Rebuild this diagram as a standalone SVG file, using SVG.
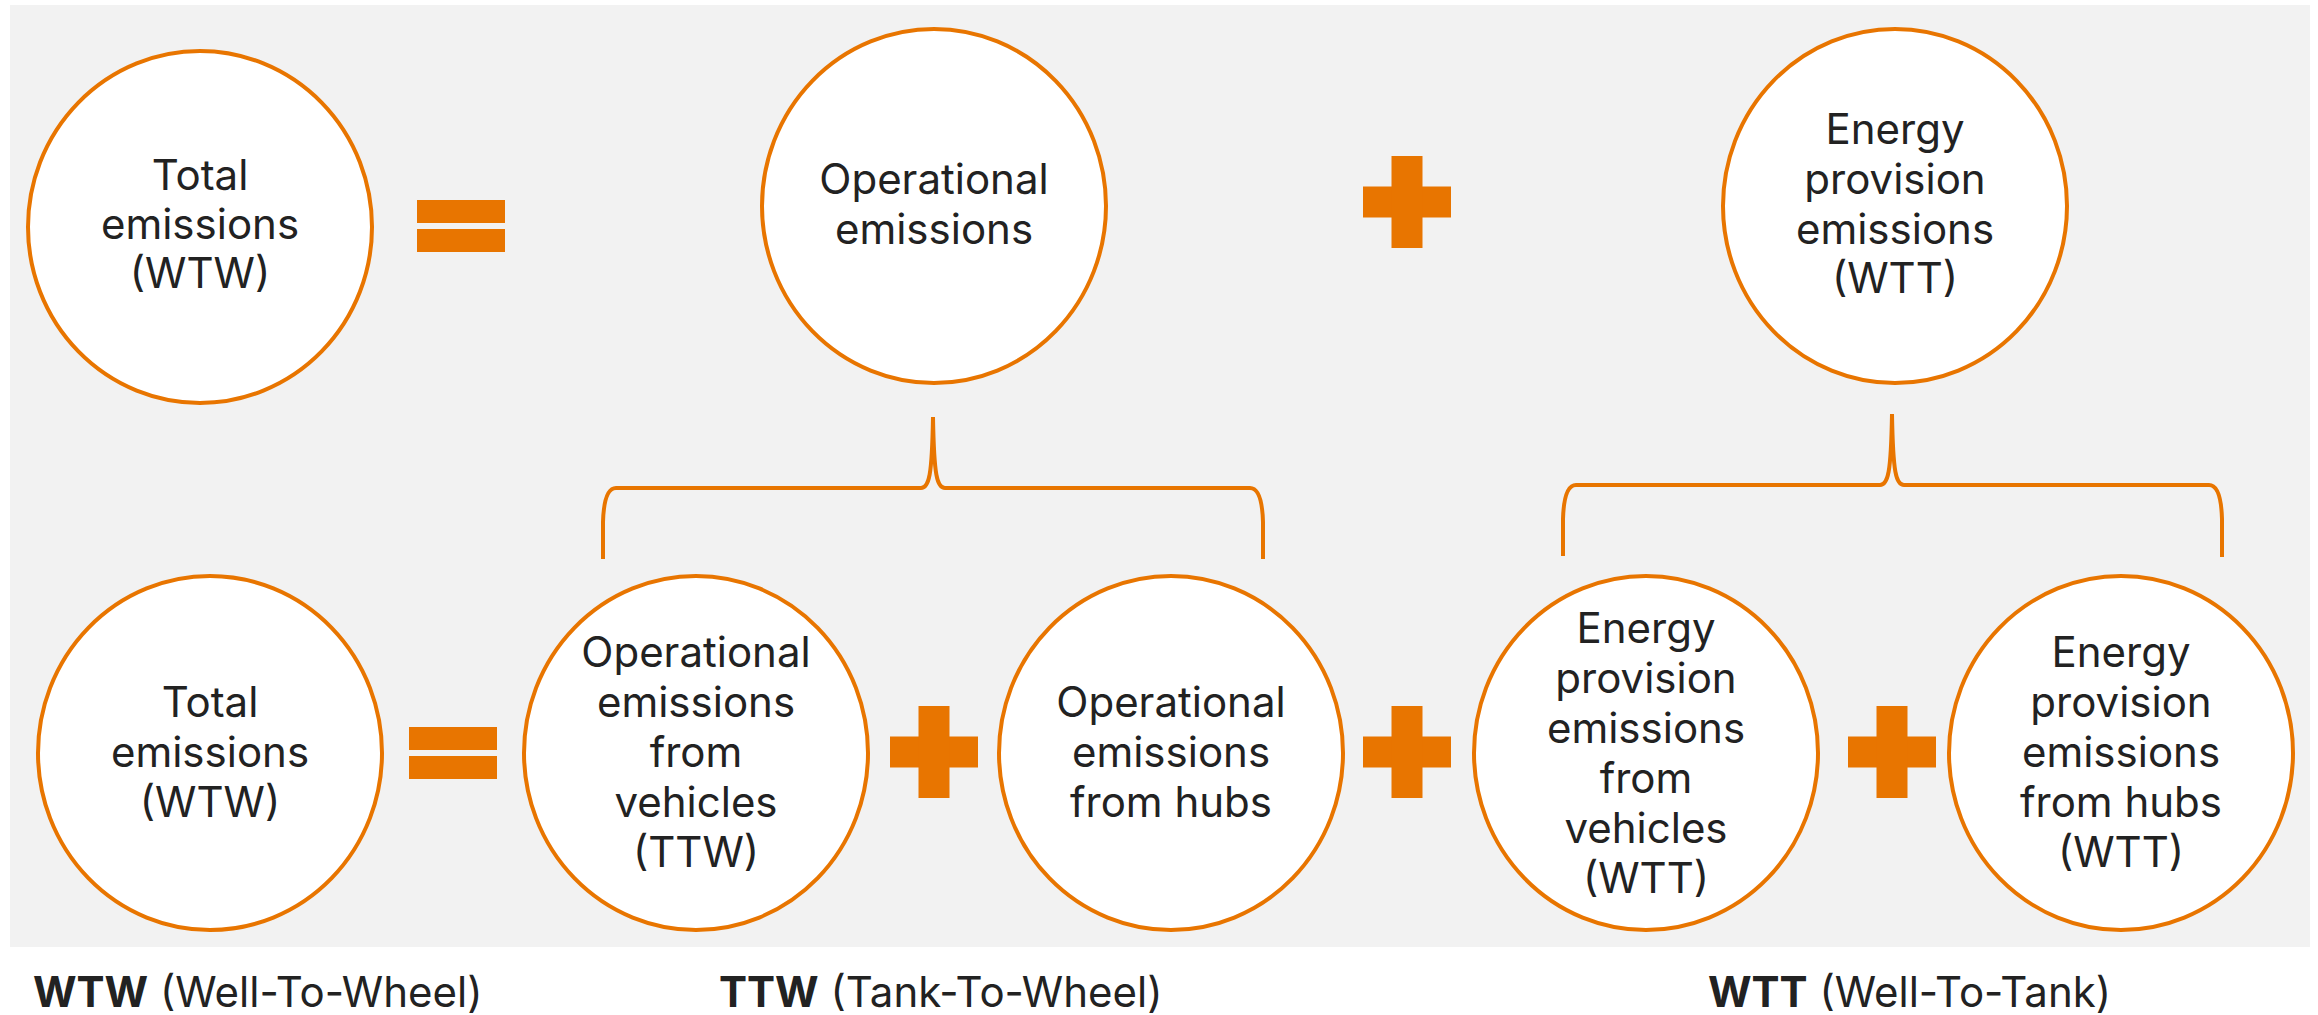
<svg xmlns="http://www.w3.org/2000/svg" width="2318" height="1015" viewBox="0 0 2318 1015">
<style>
.bg{fill:#f2f2f2}
.node ellipse{fill:#ffffff;stroke:#e87500;stroke-width:4}
.node text{font-family:Inter,"Noto Sans","Liberation Sans",sans-serif;font-size:42px;fill:#222222;text-anchor:middle}
.op{fill:#e87500}
.conn path{fill:none;stroke:#e87500;stroke-width:4}
.legend{font-family:Inter,"Noto Sans","Liberation Sans",sans-serif;font-size:42px;fill:#222222}
.legend .b{font-weight:700}
</style>
<defs>
<g id="plus"><rect x="-44" y="-15.5" width="88" height="31"/><rect x="-15.5" y="-46" width="31" height="92"/></g>
<g id="eq"><rect x="-44" y="-26" width="88" height="23"/><rect x="-44" y="3" width="88" height="23"/></g>
</defs>
<rect class="bg" x="10" y="5" width="2300" height="942"/>

<g id="top-total" class="node">
<ellipse cx="200" cy="227" rx="172" ry="176"/>
<text x="200" y="190">Total</text><text x="200" y="239">emissions</text><text x="200" y="288">(WTW)</text>
</g>
<g id="top-operational" class="node">
<ellipse cx="934" cy="206" rx="172" ry="177"/>
<text x="934" y="194">Operational</text><text x="934" y="244">emissions</text>
</g>
<g id="top-energy" class="node">
<ellipse cx="1895" cy="206" rx="172" ry="177"/>
<text x="1895" y="144">Energy</text><text x="1895" y="194">provision</text><text x="1895" y="244">emissions</text><text x="1895" y="293">(WTT)</text>
</g>

<g id="bot-total" class="node">
<ellipse cx="210" cy="753" rx="172" ry="177"/>
<text x="210" y="717">Total</text><text x="210" y="767">emissions</text><text x="210" y="817">(WTW)</text>
</g>
<g id="bot-op-vehicles" class="node">
<ellipse cx="696" cy="753" rx="172" ry="177"/>
<text x="696" y="667">Operational</text><text x="696" y="717">emissions</text><text x="696" y="767">from</text><text x="696" y="817">vehicles</text><text x="696" y="867">(TTW)</text>
</g>
<g id="bot-op-hubs" class="node">
<ellipse cx="1171" cy="753" rx="172" ry="177"/>
<text x="1171" y="717">Operational</text><text x="1171" y="767">emissions</text><text x="1171" y="817">from hubs</text>
</g>
<g id="bot-en-vehicles" class="node">
<ellipse cx="1646" cy="753" rx="172" ry="177"/>
<text x="1646" y="643">Energy</text><text x="1646" y="693">provision</text><text x="1646" y="743">emissions</text><text x="1646" y="793">from</text><text x="1646" y="843">vehicles</text><text x="1646" y="893">(WTT)</text>
</g>
<g id="bot-en-hubs" class="node">
<ellipse cx="2121" cy="753" rx="172" ry="177"/>
<text x="2121" y="667">Energy</text><text x="2121" y="717">provision</text><text x="2121" y="767">emissions</text><text x="2121" y="817">from hubs</text><text x="2121" y="867">(WTT)</text>
</g>

<g id="operators" class="op">
<use href="#eq" x="461" y="226"/>
<use href="#plus" x="1407" y="202"/>
<use href="#eq" x="453" y="753"/>
<use href="#plus" x="934" y="752"/>
<use href="#plus" x="1407" y="752"/>
<use href="#plus" x="1892" y="752"/>
</g>

<g id="connectors" class="conn">
<path d="M603,559 L603,522 Q604,488 616,488 L921,488 C929,488 932,476 933,417 C934,476 937,488 945,488 L1250,488 Q1262,488 1263,522 L1263,559"/>
<path d="M1563,556 L1563,519 Q1564,485 1576,485 L1880,485 C1888,485 1891,473 1892,414 C1893,473 1896,485 1904,485 L2209,485 Q2221,485 2222,519 L2222,557"/>
</g>

<g id="legend" class="legend">
<text x="33" y="1007"><tspan class="b">WTW</tspan> (Well-To-Wheel)</text>
<text x="719" y="1007"><tspan class="b">TTW</tspan> (Tank-To-Wheel)</text>
<text x="1708" y="1007"><tspan class="b">WTT</tspan> (Well-To-Tank)</text>
</g>
</svg>
